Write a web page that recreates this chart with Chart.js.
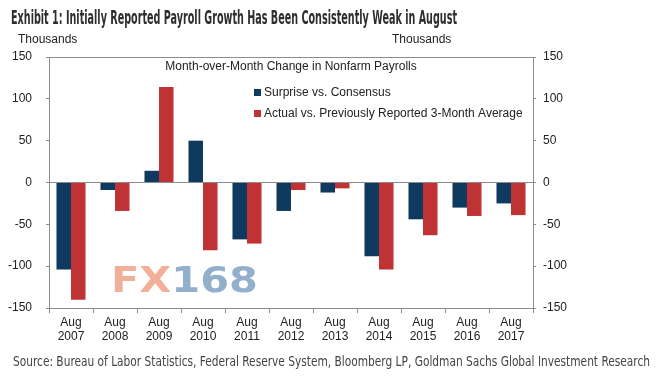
<!DOCTYPE html>
<html>
<head>
<meta charset="utf-8">
<script src="https://cdn.jsdelivr.net/npm/chart.js@4"></script>
<style>
  html, body { margin: 0; padding: 0; background: #fff; }
  #wrap { position: relative; width: 666px; height: 381px; overflow: hidden; }
  #chart { position: absolute; left: 0; top: 0; }
  .titulo { position: absolute; left: 11px; top: 5px; font: bold 20px "Liberation Sans Narrow", "DejaVu Sans Condensed", sans-serif; color: #2e2e2e; white-space: nowrap; transform-origin: 0 0; }
  .unidad { position: absolute; top: 32px; font: 12px "Liberation Sans", Arial, sans-serif; color: #222; }
  .fuente { position: absolute; left: 13px; top: 353px; font: 14px "Liberation Sans Narrow", "DejaVu Sans Condensed", sans-serif; color: #444; white-space: nowrap; transform-origin: 0 0; }
</style>
</head>
<body>
<div id="wrap">
  <canvas id="chart" width="666" height="381"></canvas>
  <div class="titulo" id="titulo">Exhibit 1: Initially Reported Payroll Growth Has Been Consistently Weak in August</div>
  <div class="unidad" style="left:18px">Thousands</div>
  <div class="unidad" style="left:392px">Thousands</div>
  <div class="fuente" id="fuente">Source: Bureau of Labor Statistics, Federal Reserve System, Bloomberg LP, Goldman Sachs Global Investment Research</div>
</div>
<script>
// Datos
const categorias = ["2007", "2008", "2009", "2010", "2011", "2012", "2013", "2014", "2015", "2016", "2017"];
const sorpresa = [-104, -9, 14, 50, -68, -34, -12, -88, -44, -30, -25];
const promedio3m = [-140, -34, 114, -81, -73, -9, -7, -104, -63, -40, -39];
const ticksY = [150, 100, 50, 0, -50, -100, -150];

const azul = "#0d3a5e";
const rojo = "#c03335";
const gris = "#8c8c8c";

// ajustar textos condensados al ancho del original
function ajustar(id, ancho) {
    const el = document.getElementById(id);
    const w = el.getBoundingClientRect().width;
    el.style.transform = "scaleX(" + (ancho / w) + ")";
}
ajustar("titulo", 446);
ajustar("fuente", 637);

// Titulo interno + leyenda + marca de agua
const extras = {
    id: "extras",
    afterDraw(chart) {
        const ctx = chart.ctx;
        ctx.save();
        ctx.fillStyle = "#222";
        ctx.font = "12px 'Liberation Sans', Arial, sans-serif";
        ctx.textBaseline = "middle";
        ctx.textAlign = "center";
        ctx.fillText("Month-over-Month Change in Nonfarm Payrolls", 291, 67);

        ctx.textAlign = "left";
        chart.data.datasets.forEach((ds, i) => {
            const y = 93 + i * 21;
            ctx.fillStyle = ds.backgroundColor;
            ctx.fillRect(254, y - 4, 7, 7);
            ctx.fillStyle = "#222";
            ctx.fillText(ds.label, 264, y);
        });

        // marca de agua
        ctx.font = "bold 35px 'DejaVu Sans', sans-serif";
        ctx.textBaseline = "alphabetic";
        const w1 = ctx.measureText("FX").width;
        const w2 = ctx.measureText("168").width;
        const k = 147 / (w1 + w2);
        ctx.translate(111, 292);
        ctx.scale(k, 1);
        ctx.fillStyle = "rgba(238,150,120,0.75)";
        ctx.fillText("FX", 0, 0);
        ctx.fillStyle = "rgba(110,150,185,0.75)";
        ctx.fillText("168", w1, 0);
        ctx.restore();
    }
};

new Chart(document.getElementById("chart"), {
    type: "bar",
    data: {
        labels: categorias.map(a => ["Aug", a]),
        datasets: [
            {
                label: "Surprise vs. Consensus",
                data: sorpresa,
                backgroundColor: azul,
                categoryPercentage: 0.66,
                barPercentage: 1.0
            },
            {
                label: "Actual vs. Previously Reported 3-Month Average",
                data: promedio3m,
                backgroundColor: rojo,
                categoryPercentage: 0.66,
                barPercentage: 1.0
            }
        ]
    },
    options: {
        responsive: false,
        animation: false,
        layout: { padding: { top: 57, bottom: 40, left: 0, right: 0 } },
        plugins: {
            legend: { display: false },
            tooltip: { enabled: false }
        },
        scales: {
            x: {
                grid: {
                    offset: true,
                    drawOnChartArea: false,
                    color: gris,
                    tickLength: 5
                },
                border: { color: gris, width: 1 },
                ticks: {
                    color: "#222",
                    font: { family: "'Liberation Sans', Arial, sans-serif", size: 12 },
                    maxRotation: 0,
                    padding: 2
                },
                afterFit(scale) { scale.height = 33; }
            },
            y: {
                position: "left",
                min: -150,
                max: 150,
                afterBuildTicks(scale) { scale.ticks = ticksY.map(v => ({ value: v })); },
                grid: {
                    color: ctx => (ctx.tick && (ctx.tick.value === 0 || ctx.tick.value === 150)) ? gris : "rgba(0,0,0,0)",
                    tickColor: gris,
                    tickLength: 3
                },
                border: { color: gris, width: 1 },
                ticks: {
                    color: "#222",
                    font: { family: "'Liberation Sans', Arial, sans-serif", size: 12 },
                    padding: 14
                },
                afterFit(scale) { scale.width = 49; }
            },
            y2: {
                position: "right",
                min: -150,
                max: 150,
                afterBuildTicks(scale) { scale.ticks = ticksY.map(v => ({ value: v })); },
                grid: {
                    drawOnChartArea: false,
                    tickColor: gris,
                    tickLength: 3
                },
                border: { color: gris, width: 1 },
                ticks: {
                    color: "#222",
                    font: { family: "'Liberation Sans', Arial, sans-serif", size: 12 },
                    padding: 7
                },
                afterFit(scale) { scale.width = 133; }
            }
        }
    },
    plugins: [extras]
});
</script>
</body>
</html>
